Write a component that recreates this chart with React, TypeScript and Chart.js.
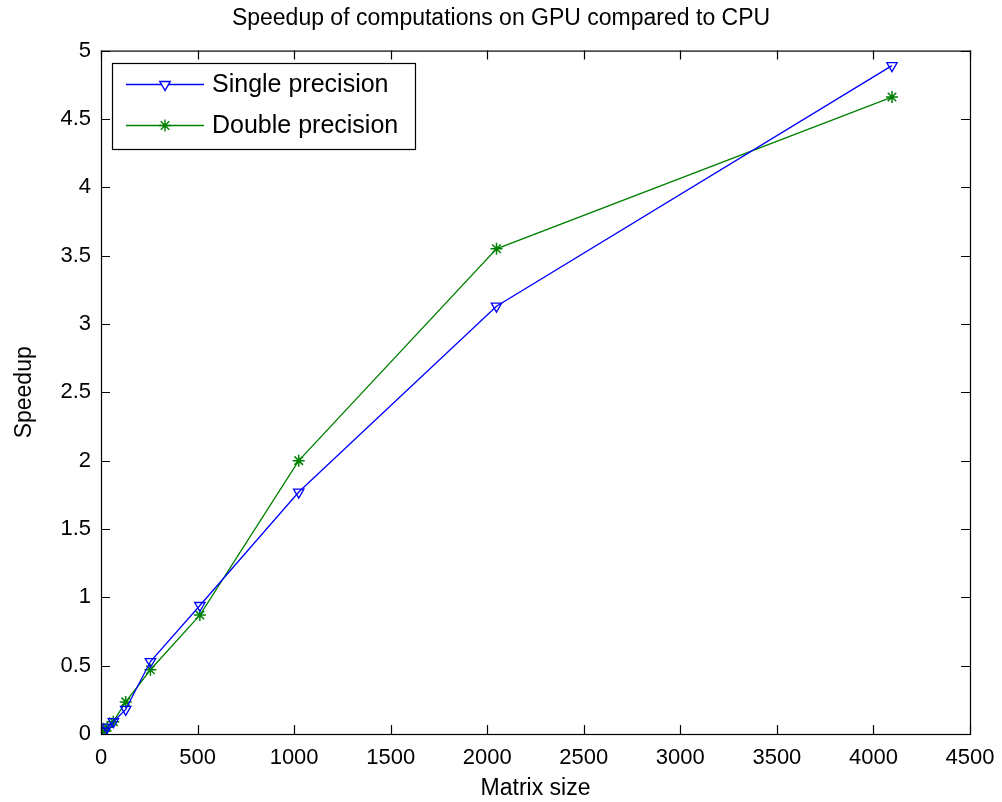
import React, { useEffect, useRef } from "react";
import { Chart, registerables } from "chart.js";

Chart.register(...registerables);

const matrixSizes = [16, 32, 64, 128, 256, 512, 1024, 2048, 4096];
const singlePrecision = [0.02, 0.05, 0.09, 0.18, 0.53, 0.94, 1.77, 3.13, 4.89];
const doublePrecision = [0.02, 0.05, 0.09, 0.235, 0.47, 0.87, 2.0, 3.55, 4.66];
const seriesNames = ["Single precision", "Double precision"];
const xTicks = [0, 500, 1000, 1500, 2000, 2500, 3000, 3500, 4000, 4500];
const yTicks = [0, 0.5, 1, 1.5, 2, 2.5, 3, 3.5, 4, 4.5, 5];

const FONT = "'Liberation Sans', Arial, sans-serif";
const BLUE = "#0000ff";
const GREEN = "#008000";

function drawMarker(ctx: CanvasRenderingContext2D, style: string, cx: number, cy: number, r: number, color: string) {
  ctx.save();
  ctx.strokeStyle = color;
  ctx.lineWidth = 1.4;
  ctx.beginPath();
  if (style === "triangle") {
    const s = Math.sin(Math.PI / 3) * r;
    ctx.moveTo(cx, cy + r);
    ctx.lineTo(cx - s, cy - r / 2);
    ctx.lineTo(cx + s, cy - r / 2);
    ctx.closePath();
    ctx.fillStyle = "#fff";
    ctx.fill();
  } else {
    const d = r * Math.SQRT1_2;
    ctx.moveTo(cx - r, cy);
    ctx.lineTo(cx + r, cy);
    ctx.moveTo(cx, cy - r);
    ctx.lineTo(cx, cy + r);
    ctx.moveTo(cx - d, cy - d);
    ctx.lineTo(cx + d, cy + d);
    ctx.moveTo(cx - d, cy + d);
    ctx.lineTo(cx + d, cy - d);
  }
  ctx.stroke();
  ctx.restore();
}

const framePlugin = {
  id: "matlabFrame",
  afterDatasetsDraw(chart: any) {
    const { ctx, chartArea: a, scales } = chart;
    const x = scales.x;
    const y = scales.y;
    const tl = 9;
    ctx.save();
    ctx.strokeStyle = "#000";
    ctx.lineWidth = 1.2;
    ctx.beginPath();
    xTicks.forEach((v) => {
      const px = Math.round(x.getPixelForValue(v)) + 0.5;
      ctx.moveTo(px, a.bottom);
      ctx.lineTo(px, a.bottom - tl);
      ctx.moveTo(px, a.top);
      ctx.lineTo(px, a.top + tl);
    });
    yTicks.forEach((v) => {
      const py = Math.round(y.getPixelForValue(v)) + 0.5;
      ctx.moveTo(a.left, py);
      ctx.lineTo(a.left + tl, py);
      ctx.moveTo(a.right, py);
      ctx.lineTo(a.right - tl, py);
    });
    ctx.stroke();
    ctx.strokeRect(a.left + 0.5, a.top + 0.5, a.right - a.left, a.bottom - a.top);

    // legend
    const lx = 112, ly = 63, lw = 303, lh = 86;
    ctx.fillStyle = "#fff";
    ctx.fillRect(lx, ly, lw, lh);
    ctx.strokeRect(lx + 0.5, ly + 0.5, lw, lh);
    const rows = [84, 125];
    chart.data.datasets.forEach((ds: any, i: number) => {
      const ry = rows[i] + 0.5;
      ctx.strokeStyle = ds.borderColor;
      ctx.lineWidth = 1.3;
      ctx.beginPath();
      ctx.moveTo(126, ry);
      ctx.lineTo(204, ry);
      ctx.stroke();
      drawMarker(ctx, ds.pointStyle, 165, ry, ds.pointRadius, ds.borderColor);
      ctx.fillStyle = "#000";
      ctx.font = `25px ${FONT}`;
      ctx.textBaseline = "middle";
      ctx.textAlign = "left";
      ctx.fillText(seriesNames[i], 212, rows[i] + 1);
    });
    ctx.restore();
  },
};

export default function App() {
  const ref = useRef<HTMLCanvasElement>(null);
  useEffect(() => {
    document.body.style.margin = "0";
    const canvas = ref.current!;
    const chart = new Chart(canvas, {
      type: "line",
      data: {
        datasets: [
          {
            label: seriesNames[0],
            data: matrixSizes.map((m, i) => ({ x: m, y: singlePrecision[i] })),
            borderColor: BLUE,
            backgroundColor: "rgba(0,0,0,0)",
            borderWidth: 1.3,
            pointStyle: "triangle",
            pointRotation: 180,
            pointRadius: 6,
            pointBorderWidth: 1.3,
            pointBorderColor: BLUE,
            pointBackgroundColor: "rgba(0,0,0,0)",
            tension: 0,
          },
          {
            label: seriesNames[1],
            data: matrixSizes.map((m, i) => ({ x: m, y: doublePrecision[i] })),
            borderColor: GREEN,
            backgroundColor: "rgba(0,0,0,0)",
            borderWidth: 1.3,
            pointStyle: "star",
            pointRadius: 6,
            pointBorderWidth: 1.5,
            pointBorderColor: GREEN,
            pointBackgroundColor: GREEN,
            tension: 0,
          },
        ],
      },
      options: {
        animation: false,
        responsive: false,
        devicePixelRatio: 1,
        layout: { padding: { left: 0, right: 0, top: 0, bottom: 0 } },
        plugins: {
          legend: { display: false },
          tooltip: { enabled: false },
          title: {
            display: true,
            text: "Speedup of computations on GPU compared to CPU",
            color: "#000",
            font: { family: FONT, size: 23, weight: "normal" as any },
            padding: { top: 5, bottom: 18 },
          },
        },
        scales: {
          x: {
            type: "linear",
            min: 0,
            max: 4500,
            afterBuildTicks: (s: any) => {
              s.ticks = xTicks.map((v) => ({ value: v }));
            },
            afterFit: (s: any) => {
              s.height = 68;
              s.paddingLeft = 0;
              s.paddingRight = 0;
            },
            grid: { display: false, drawTicks: false },
            border: { display: false },
            ticks: {
              color: "#000",
              padding: 11,
              maxRotation: 0,
              autoSkip: false,
              font: { family: FONT, size: 22 },
              callback: (v: any) => String(v),
            },
            title: {
              display: true,
              text: "Matrix size",
              color: "#000",
              font: { family: FONT, size: 23 },
              padding: { top: 0, bottom: 0 },
            },
          },
          y: {
            type: "linear",
            min: 0,
            max: 5,
            afterBuildTicks: (s: any) => {
              s.ticks = yTicks.map((v) => ({ value: v }));
            },
            afterFit: (s: any) => {
              s.width = 101;
              s.paddingTop = 0;
              s.paddingBottom = 0;
            },
            grid: { display: false, drawTicks: false },
            border: { display: false },
            ticks: {
              color: "#000",
              padding: 10,
              autoSkip: false,
              font: { family: FONT, size: 22 },
              callback: (v: any) => String(v),
            },
            title: {
              display: true,
              text: "Speedup",
              color: "#000",
              font: { family: FONT, size: 23 },
              padding: { top: 11, bottom: 0 },
            },
          },
          yRight: {
            type: "linear",
            position: "right",
            min: 0,
            max: 5,
            afterFit: (s: any) => {
              s.width = 32;
              s.paddingTop = 0;
              s.paddingBottom = 0;
            },
            grid: { display: false, drawTicks: false },
            border: { display: false },
            ticks: { display: false },
          },
        },
      },
      plugins: [framePlugin],
    });
    return () => chart.destroy();
  }, []);
  return (
    <div style={{ position: "absolute", left: 0, top: 0, width: 1002, height: 802, background: "#fff" }}>
      <canvas ref={ref} width={1002} height={802} style={{ width: 1002, height: 802 }} />
    </div>
  );
}
